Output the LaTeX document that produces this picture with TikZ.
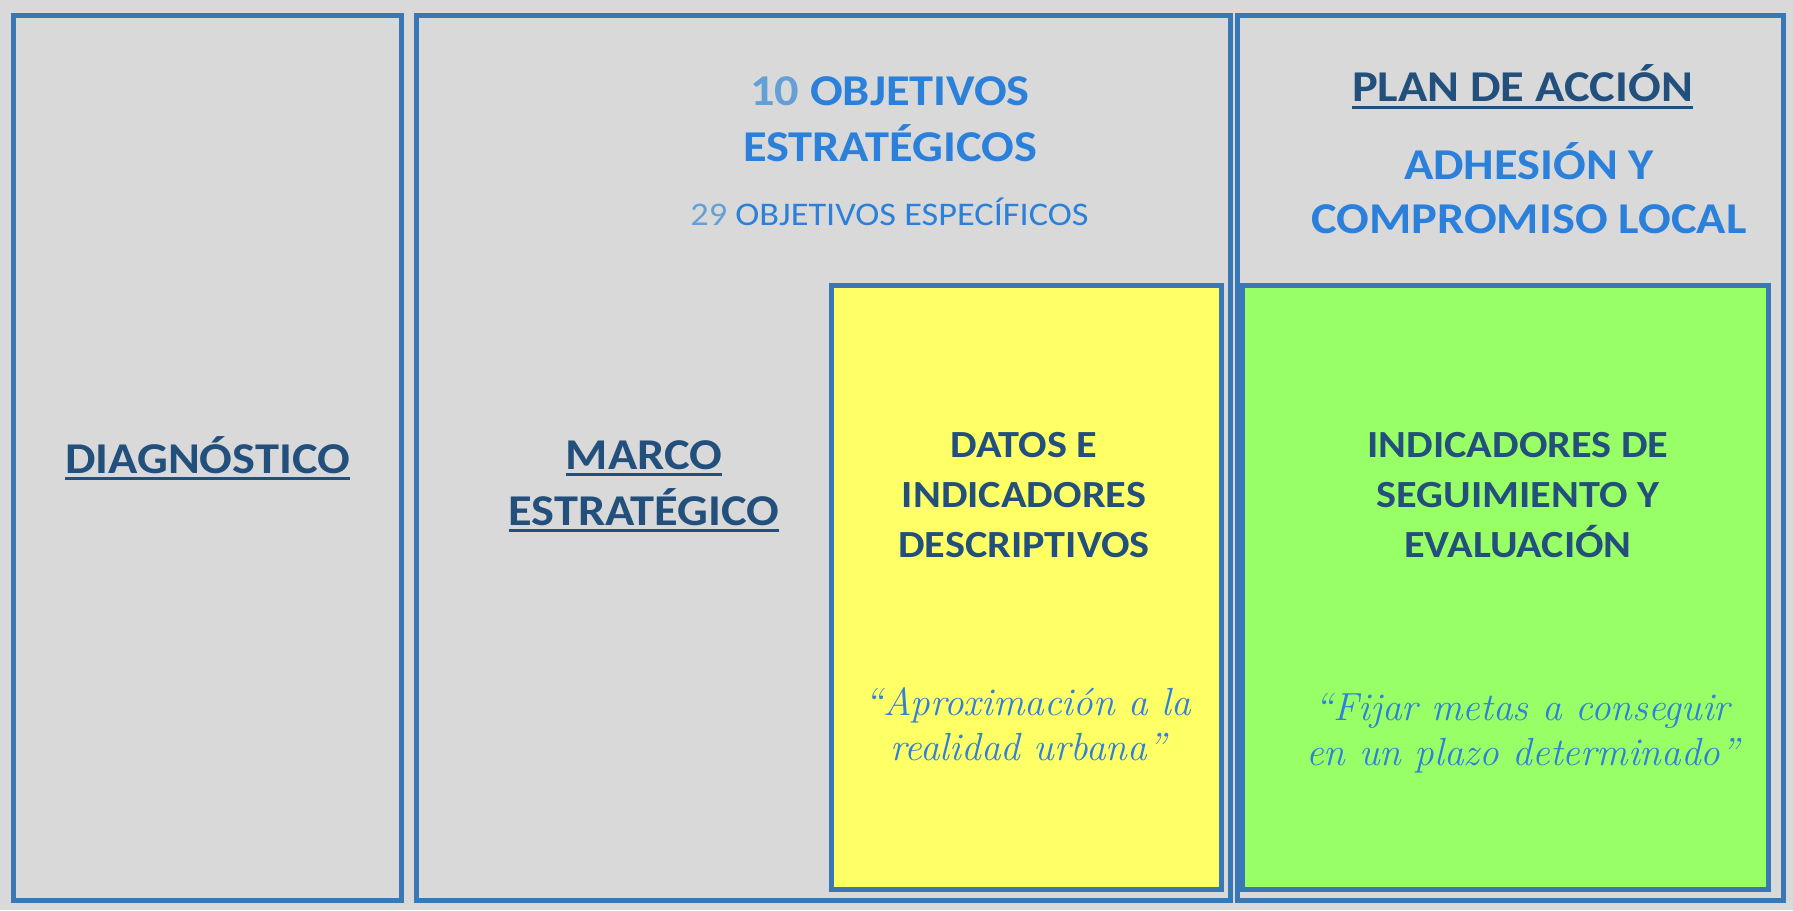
\documentclass[tikz,border=0pt]{standalone}
\usepackage{fontspec}
\usepackage{xcolor}
\usepackage{tikz}
\newfontfamily\calibri{Carlito}[FakeStretch=1.1]

\definecolor{bggray}{HTML}{D9D9D9}
\definecolor{frameblue}{HTML}{3A78B5}
\definecolor{darktxt}{HTML}{234F7C}
\definecolor{brighttxt}{HTML}{2A80DA}
\definecolor{lighttxt}{HTML}{64A0D6}
\definecolor{quotetxt}{HTML}{2F80DA}
\definecolor{yellowbox}{HTML}{FFFF66}
\definecolor{greenbox}{HTML}{99FF66}

% underlined word, rule a bit under the baseline
\newcommand{\ulw}[1]{\setbox0=\hbox{#1}\rlap{\copy0}\rule[-3.5pt]{\wd0}{1.5pt}}

\begin{document}
\begin{tikzpicture}
               [x=0.5pt, y=-0.5pt,
                panel/.style = {draw=frameblue, line width=2.5pt},
                head/.style = {inner sep=0pt, anchor=base, align=center, text=darktxt, font=\calibri\bfseries\fontsize{22}{28}\selectfont},
                blue/.style = {inner sep=0pt, anchor=base, align=center, text=brighttxt, font=\calibri\bfseries\fontsize{22}{28}\selectfont},
                boxhead/.style = {inner sep=0pt, anchor=base, align=center, text=darktxt, font=\calibri\bfseries\fontsize{19.2}{25}\selectfont},
                quote/.style = {inner sep=0pt, anchor=base, align=center, text=quotetxt, font=\itshape\fontsize{19.6}{22.5}\selectfont}]
                % Background
                \fill[bggray] (0,0) rectangle (1793,910);
                \useasboundingbox (0,0) rectangle (1793,910);
                % Columns
                \draw[panel] (13,15) rectangle (401.5,900.5);
                \draw[panel] (416.5,15) rectangle (1230,900.5);
                \draw[panel] (1237.5,15) rectangle (1783.5,900.5);
                % Inner boxes
                \draw[panel, fill=yellowbox] (831.5,285.5) rectangle (1221.5,889);
                \draw[panel, fill=greenbox] (1242.5,285.5) rectangle (1768,889.5);
                % Column titles (base = last line)
                \node[head] (diag) at (207.5,473) {\ulw{DIAGNÓSTICO}};
                \node[head] (marco) at (644,525) {\ulw{MARCO}\\\ulw{ESTRATÉGICO}};
                \node[head] (plan) at (1522.5,101.7) {\ulw{PLAN DE ACCIÓN}};
                % Objectives
                \node[blue] (obj) at (890,161) {\textcolor{lighttxt}{10} OBJETIVOS\\ESTRATÉGICOS};
                \node[inner sep=0pt, anchor=base, text=brighttxt, font=\calibri\fontsize{16.5}{20}\selectfont] (espec) at (889.5,225) {\textcolor{lighttxt}{29} OBJETIVOS ESPECÍFICOS};
                \node[blue, font=\calibri\bfseries\fontsize{22}{27}\selectfont] (adh) at (1529,233) {ADHESIÓN Y\\COMPROMISO LOCAL};
                % Indicators
                \node[boxhead] (datos) at (1024,557) {DATOS E\\INDICADORES\\DESCRIPTIVOS};
                \node[boxhead] (segui) at (1518,557) {INDICADORES DE\\SEGUIMIENTO Y\\EVALUACIÓN};
                % Quotes
                \node[quote] (aprox) at (1028,760) {``Aproximación a la\\realidad urbana''};
                \node[quote] (metas) at (1522.5,765) {``Fijar metas a conseguir\\en un plazo determinado''};
            \end{tikzpicture}
\end{document}
